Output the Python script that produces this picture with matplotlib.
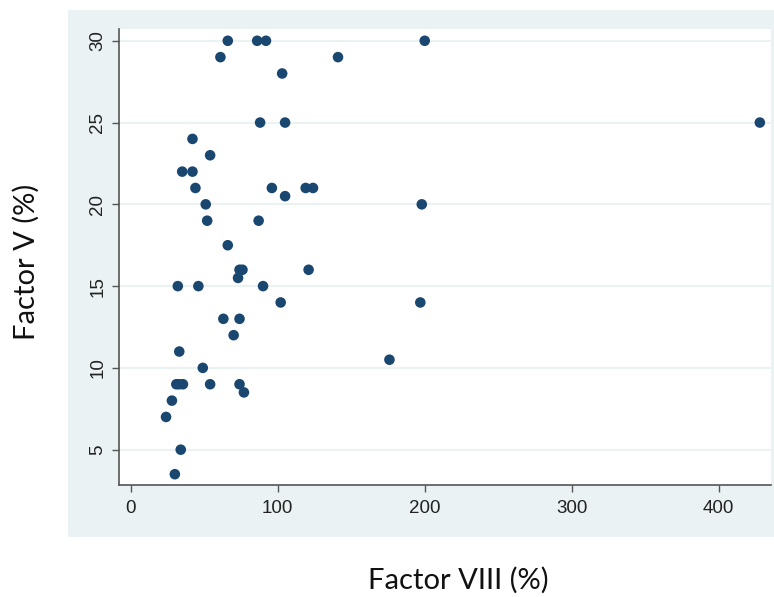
import numpy as np
import matplotlib
matplotlib.use("Agg")
import matplotlib.pyplot as plt
from matplotlib.patches import Rectangle

# Factor VIII (%) and Factor V (%)
factor_viii = [66, 61, 86, 92, 200, 141, 103, 88, 105, 428,
               42, 54, 35, 42, 44, 96, 119, 124, 105,
               51, 52, 87, 198, 66, 73, 74, 76, 121,
               32, 46, 90, 102, 197, 63, 74, 70, 33,
               176, 49, 31, 33, 35.5, 54, 74, 77, 28, 24, 34, 30]
factor_v = [30, 29, 30, 30, 30, 29, 28, 25, 25, 25,
            24, 23, 22, 22, 21, 21, 21, 21, 20.5,
            20, 19, 19, 20, 17.5, 15.5, 16, 16, 16,
            15, 15, 15, 14, 14, 13, 13, 12, 11,
            10.5, 10, 9, 9, 9, 9, 9, 8.5, 8, 7, 5, 3.5]

xticks = [0, 100, 200, 300, 400]
yticks = [5, 10, 15, 20, 25, 30]

bg = '#EAF2F3'
navy = '#1A476F'

plt.rcParams['font.family'] = ['Liberation Sans', 'DejaVu Sans']

fig = plt.figure(figsize=(7.74, 5.97), dpi=100)
fig.patch.set_facecolor('white')

# grey Stata-style box behind the plot region
fig.patches.append(Rectangle((68 / 774, 60 / 597), 706 / 774, 527 / 597,
                             transform=fig.transFigure, facecolor=bg,
                             edgecolor='none', zorder=0))

ax = fig.add_axes([119 / 774, 112 / 597, 652 / 774, 456 / 597])
ax.set_facecolor('white')
ax.set_zorder(1)

ax.scatter(factor_viii, factor_v, s=58, color=navy, edgecolors='none', zorder=3)

ax.set_xlim(-8, 435.6)
ax.set_ylim(2.84, 30.72)
ax.set_xticks(xticks)
ax.set_yticks(yticks)
ax.yaxis.grid(True, color=bg, linewidth=1.5)
ax.set_axisbelow(True)

for side in ['top', 'right']:
    ax.spines[side].set_visible(False)
for side in ['left', 'bottom']:
    ax.spines[side].set_color('#555555')
    ax.spines[side].set_linewidth(1.2)

ax.tick_params(axis='both', colors='#555555', length=5, width=1,
               labelcolor='#222222', labelsize=13.5)
ax.tick_params(axis='y', pad=4)
ax.tick_params(axis='x', pad=6)
for lbl in ax.get_yticklabels():
    lbl.set_rotation(90)
    lbl.set_va('center')

fig.text(458 / 774, 1 - 580 / 597, 'Factor VIII (%)', ha='center', va='center',
         fontsize=21, family='Lato', color='#111111')
fig.text(26 / 774, 1 - 262 / 597, 'Factor V (%)', ha='center', va='center',
         rotation=90, fontsize=21, family='Lato', color='#111111')

fig.savefig('out.png', dpi=100)
